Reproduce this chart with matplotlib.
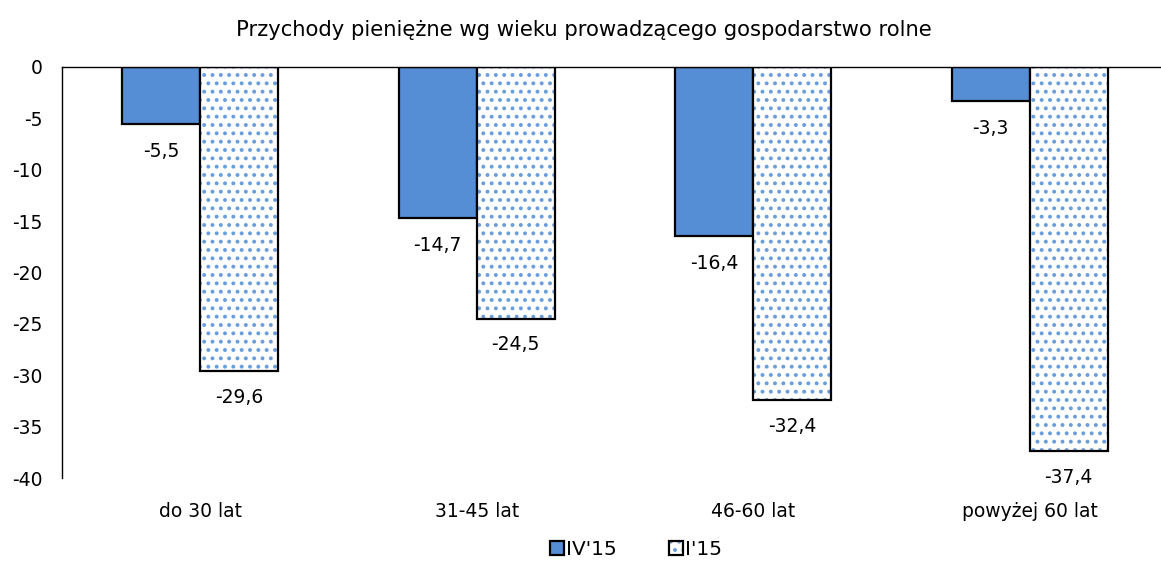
import matplotlib
matplotlib.use('Agg')
import matplotlib.pyplot as plt
from matplotlib.patches import Patch
import numpy as np

plt.rcParams['font.family'] = ['DejaVu Sans']
plt.rcParams['axes.unicode_minus'] = False
plt.rcParams['hatch.linewidth'] = 1.6

categories = ["do 30 lat", "31-45 lat", "46-60 lat", "powyżej 60 lat"]
iv15 = [-5.5, -14.7, -16.4, -3.3]
i15 = [-29.6, -24.5, -32.4, -37.4]
series_names = ["IV'15", "I'15"]

blue = "#558ED5"
dot_blue = "#6A9DDC"
fs = 13.5

fig = plt.figure(figsize=(11.61, 5.66), dpi=100)
ax = fig.add_axes([62 / 1161, 1 - 478 / 566, 1 - 62 / 1161, (478 - 67) / 566])

x = np.arange(len(categories))
w = 0.282

ax.bar(x - w / 2, iv15, w, color=blue, edgecolor="black", linewidth=1.6)
# dotted bars: hatch fill first, then black outline on top
ax.bar(x + w / 2, i15, w, color="white", edgecolor=dot_blue, hatch="..", linewidth=0)
ax.bar(x + w / 2, i15, w, fill=False, edgecolor="black", linewidth=1.6)

fmt = lambda v: f"{v:.1f}".replace(".", ",")
for xi, v in zip(x - w / 2, iv15):
    ax.annotate(fmt(v), (xi, v), xytext=(0, -13), textcoords="offset points",
                ha="center", va="top", fontsize=fs)
for xi, v in zip(x + w / 2, i15):
    ax.annotate(fmt(v), (xi, v), xytext=(0, -12), textcoords="offset points",
                ha="center", va="top", fontsize=fs)

ax.set_ylim(-40, 0)
ax.set_yticks(range(-40, 1, 5))
ax.set_xlim(-0.5, 3.5 - 7 / 277)
ax.set_xticks(x)
ax.set_xticklabels(categories, fontsize=fs)
ax.tick_params(axis="y", length=0, labelsize=fs, pad=14)
ax.tick_params(axis="x", length=0, pad=17)
for s in ["bottom", "right"]:
    ax.spines[s].set_visible(False)
ax.spines["top"].set_linewidth(1)
ax.spines["left"].set_linewidth(1)

fig.text(584 / 1161, 1 - 30 / 566, "Przychody pieniężne wg wieku prowadzącego gospodarstwo rolne",
         fontsize=15.2, ha="center", va="center")

h1 = Patch(facecolor=blue, edgecolor="black", linewidth=1.6)
h2 = Patch(facecolor="white", edgecolor=dot_blue, hatch="..", linewidth=0)
h2b = Patch(fill=False, edgecolor="black", linewidth=1.6)
ax.legend([h1, (h2, h2b)], series_names, loc="center", bbox_to_anchor=(0.522, -0.175),
          ncol=2, frameon=False, fontsize=14.5, handlelength=0.7, handleheight=0.7,
          handletextpad=0.1, columnspacing=2.6)

fig.savefig("out.png", dpi=100)
